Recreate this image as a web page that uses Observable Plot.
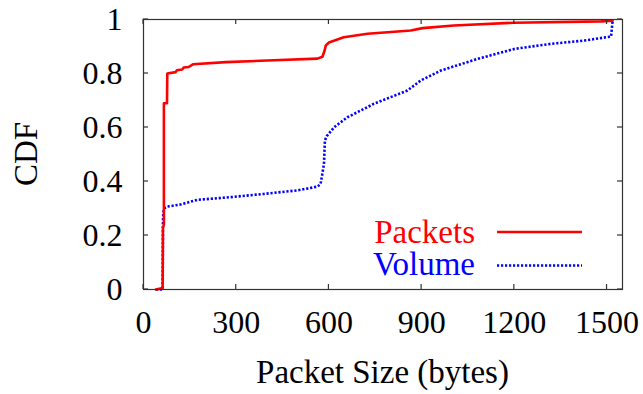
<!DOCTYPE html>
<html>
<head>
<meta charset="utf-8">
<script src="https://cdn.jsdelivr.net/npm/d3@7"></script>
<script src="https://cdn.jsdelivr.net/npm/@observablehq/plot@0.6"></script>
<style>
  html, body { margin: 0; padding: 0; background: #fff; }
  #chart svg { display: block; }
  #chart svg, #chart svg text { font-family: "Liberation Serif", "Times New Roman", "DejaVu Serif", serif; }
</style>
</head>
<body>
<div id="chart"></div>
<script>
// Packets CDF (packet size in bytes, cumulative fraction)
const packetSize = [40, 62, 63, 66, 66, 76, 77, 104, 108, 125, 130, 146, 160, 266, 400, 563, 579, 586, 590, 600, 648, 725, 865, 903, 1004, 1199, 1481, 1518];
const packetCdf  = [0, 0.005, 0.23, 0.24, 0.69, 0.69, 0.80, 0.805, 0.812, 0.815, 0.822, 0.824, 0.834, 0.842, 0.848, 0.855, 0.862, 0.885, 0.904, 0.915, 0.934, 0.947, 0.959, 0.968, 0.978, 0.988, 0.993, 0.996];

// Volume CDF
const volumeSize = [40, 62, 63, 64, 66, 77, 120, 174, 282, 389, 498, 563, 573, 579, 584, 587, 593, 617, 660, 746, 854, 897, 962, 1081, 1200, 1319, 1427, 1513, 1518];
const volumeCdf  = [0, 0.0, 0.25, 0.28, 0.30, 0.307, 0.315, 0.332, 0.342, 0.354, 0.367, 0.381, 0.391, 0.43, 0.466, 0.552, 0.568, 0.601, 0.638, 0.688, 0.737, 0.774, 0.811, 0.854, 0.891, 0.910, 0.922, 0.937, 0.996];

const xTicks = [0, 300, 600, 900, 1200, 1500];
const yTicks = [0, 0.2, 0.4, 0.6, 0.8, 1];
const seriesNames = ["Packets", "Volume"];
const seriesColors = ["#ff0000", "#0000ff"];
const xLabel = "Packet Size (bytes)";
const yLabel = "CDF";

const packets = packetSize.map((s, i) => ({size: s, cdf: packetCdf[i]}));
const volume = volumeSize.map((s, i) => ({size: s, cdf: volumeCdf[i]}));

const W = 643, H = 394;
const mL = 143, mR = 21, mT = 19, mB = 105;
const font = "Liberation Serif, Times New Roman, DejaVu Serif, serif";

const plot = Plot.plot({
  width: W,
  height: H,
  marginLeft: mL,
  marginRight: mR,
  marginTop: mT,
  marginBottom: mB,
  style: {fontFamily: font, fontSize: "32px", color: "#000", background: "#fff", overflow: "visible"},
  x: {domain: [0, 1550]},
  y: {domain: [0, 1]},
  marks: [
    Plot.axisX(xTicks, {anchor: "bottom", tickSize: 0, tickPadding: 21, label: null, fontSize: 32, tickFormat: d => String(d)}),
    Plot.axisY(yTicks, {anchor: "left", tickSize: 0, tickPadding: 21, label: null, fontSize: 32, tickFormat: d => String(d)}),
    Plot.line(volume, {x: "size", y: "cdf", stroke: seriesColors[1], strokeWidth: 2.6, strokeDasharray: "2.2,1.8", strokeLinecap: "butt"}),
    Plot.line(packets, {x: "size", y: "cdf", stroke: seriesColors[0], strokeWidth: 2.6}),
    Plot.frame({stroke: "#333", strokeWidth: 1.2})
  ]
});

document.getElementById("chart").appendChild(plot);

const svg = d3.select(plot);
const xs = plot.scale("x"), ys = plot.scale("y");
const x0 = mL, x1 = W - mR, y0 = mT, y1 = H - mB;
const tl = 5;
const tg = svg.append("g").attr("stroke", "#333").attr("stroke-width", 1.2);
xTicks.forEach(t => {
  const px = xs.apply(t);
  tg.append("line").attr("x1", px).attr("x2", px).attr("y1", y1).attr("y2", y1 - tl);
  tg.append("line").attr("x1", px).attr("x2", px).attr("y1", y0).attr("y2", y0 + tl);
});
yTicks.forEach(t => {
  const py = ys.apply(t);
  tg.append("line").attr("x1", x0).attr("x2", x0 + tl).attr("y1", py).attr("y2", py);
  tg.append("line").attr("x1", x1).attr("x2", x1 - tl).attr("y1", py).attr("y2", py);
});

// axis labels
svg.append("text").attr("x", (x0 + x1) / 2).attr("y", 383)
  .attr("text-anchor", "middle").attr("font-size", 33).attr("fill", "#000")
  .text(xLabel);
svg.append("text").attr("transform", `translate(37,${(y0 + y1) / 2}) rotate(-90)`)
  .attr("text-anchor", "middle").attr("font-size", 33).attr("fill", "#000")
  .text(yLabel);

// legend
const lg = svg.append("g");
const lx = x1 - 147, rowY = [243, 275], lineY = [232, 265.5];
seriesNames.forEach((name, i) => {
  lg.append("text").attr("x", lx).attr("y", rowY[i]).attr("text-anchor", "end")
    .attr("font-size", 33).attr("fill", seriesColors[i]).text(name);
  const l = lg.append("line").attr("x1", lx + 22).attr("x2", lx + 107)
    .attr("y1", lineY[i]).attr("y2", lineY[i]).attr("stroke", seriesColors[i]).attr("stroke-width", 2.6);
  if (i === 1) l.attr("stroke-dasharray", "2.2,1.8");
});
</script>
</body>
</html>
